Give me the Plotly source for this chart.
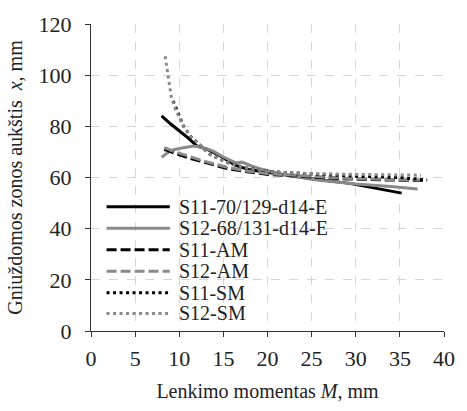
import plotly.graph_objects as go

# Bending moment M and compression zone height x for each series
s11_e_m = [8.0, 9.0, 10.2, 11.0, 12.0, 13.2, 14.6, 15.5, 16.4, 18.0, 20.0, 21.9, 25.0, 29.3, 32.0, 35.2]
s11_e_x = [84.1, 81.0, 77.7, 75.5, 72.3, 71.0, 68.5, 66.5, 64.7, 63.0, 62.0, 60.9, 59.5, 57.7, 56.0, 53.9]

s12_e_m = [8.0, 9.0, 10.0, 11.0, 11.6, 12.5, 13.8, 15.0, 16.4, 17.1, 18.2, 19.4, 22.0, 25.6, 30.0, 34.0, 37.0]
s12_e_x = [67.9, 70.5, 71.3, 72.0, 72.3, 71.8, 70.4, 68.0, 65.7, 66.0, 64.5, 63.2, 61.0, 59.0, 57.5, 56.5, 55.5]

s11_am_m = [8.3, 9.5, 10.9, 13.0, 15.3, 17.5, 20.1, 25.0, 29.3, 34.0, 37.7]
s11_am_x = [71.0, 69.5, 67.8, 65.8, 63.6, 62.3, 61.2, 60.2, 59.4, 59.0, 58.8]

s12_am_m = [8.3, 9.5, 10.9, 13.0, 15.3, 17.5, 20.1, 25.0, 29.3, 34.0, 37.7]
s12_am_x = [71.7, 70.0, 68.5, 66.2, 64.1, 62.6, 61.5, 60.5, 59.6, 59.2, 59.0]

s11_sm_m = [9.3, 9.8, 10.5, 11.3, 12.4, 13.5, 15.3, 17.5, 20.1, 25.0, 30.0, 35.0, 38.1]
s11_sm_x = [90.0, 85.5, 80.0, 76.0, 72.3, 69.0, 66.0, 63.8, 62.3, 61.3, 60.5, 60.0, 59.0]

s12_sm_m = [8.4, 8.7, 9.1, 9.6, 10.5, 11.3, 12.4, 13.5, 15.3, 17.5, 20.1, 25.0, 30.0, 37.4]
s12_sm_x = [107.4, 100.4, 91.5, 86.4, 80.0, 76.0, 72.3, 69.0, 66.0, 63.8, 62.2, 61.5, 61.2, 60.9]

x_ticks = [0, 5, 10, 15, 20, 25, 30, 35, 40]
y_ticks = [0, 20, 40, 60, 80, 100, 120]

BLACK = "#000000"
GRAY = "#8a8a8a"
DASH = "10px,4px"
DOT = "3px,3.5px"

series = [
    ("S11-70/129-d14-E", s11_e_m, s11_e_x, BLACK, "solid"),
    ("S12-68/131-d14-E", s12_e_m, s12_e_x, GRAY, "solid"),
    ("S11-AM", s11_am_m, s11_am_x, BLACK, DASH),
    ("S12-AM", s12_am_m, s12_am_x, GRAY, DASH),
    ("S11-SM", s11_sm_m, s11_sm_x, BLACK, DOT),
    ("S12-SM", s12_sm_m, s12_sm_x, GRAY, DOT),
]

FONT = "Liberation Serif"
TEXT = "#222222"
W, H = 467, 411
ML, MR, MT, MB = 91, 13, 22, 75
PW, PH = W - ML - MR, H - MT - MB

fig = go.Figure()
for name, m, x, color, dash in series:
    fig.add_trace(go.Scatter(
        x=m, y=x, mode="lines", name=name,
        line=dict(color=color, width=3, dash=dash),
        showlegend=False,
    ))

# Legend drawn inside the plot area: a line sample and a label per series
row_px = [209, 231, 253, 275, 297, 318]
line_x0, line_x1, text_x = 107, 172, 179
shapes = []
annotations = []
for (name, _, _, color, dash), py in zip(series, row_px):
    yp = (MT + PH - py) / PH
    shapes.append(dict(
        type="line", xref="paper", yref="paper",
        x0=(line_x0 - ML) / PW, x1=(line_x1 - ML) / PW, y0=yp, y1=yp,
        line=dict(color=color, width=3, dash=dash),
    ))
    annotations.append(dict(
        xref="paper", yref="paper", x=(text_x - ML) / PW, y=yp,
        xanchor="left", yanchor="middle", showarrow=False,
        text=name, font=dict(family=FONT, size=20, color=TEXT),
    ))

axis_common = dict(
    showline=True, linecolor="#333333", linewidth=1.3,
    ticks="outside", ticklen=5, tickcolor="#333333", tickwidth=1.3,
    showgrid=True, gridcolor="#d6d6d6", gridwidth=1, griddash="dash",
    zeroline=False,
    tickfont=dict(family=FONT, size=22, color=TEXT),
)

fig.update_layout(
    width=W, height=H,
    margin=dict(l=ML, r=MR, t=MT, b=MB),
    paper_bgcolor="white", plot_bgcolor="white",
    shapes=shapes, annotations=annotations,
    xaxis=dict(
        range=[0, 40], tickvals=x_ticks, ticktext=[str(v) for v in x_ticks],
        ticklabelstandoff=2,
        title=dict(text="Lenkimo momentas <i>M</i>, mm",
                   font=dict(family=FONT, size=20, color=TEXT), standoff=14),
        **axis_common,
    ),
    yaxis=dict(
        range=[0, 120], tickvals=y_ticks, ticktext=[str(v) for v in y_ticks],
        ticklabelstandoff=9,
        title=dict(text="Gniuždomos zonos aukštis  <i>x</i>, mm",
                   font=dict(family=FONT, size=20, color=TEXT), standoff=10),
        **axis_common,
    ),
)

fig.write_html("out.html")
